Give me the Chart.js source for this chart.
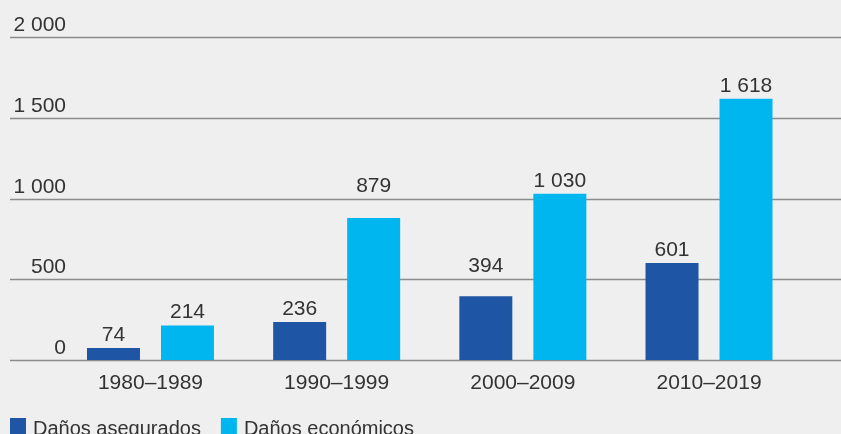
<!DOCTYPE html>
<html>
<head>
<meta charset="utf-8">
<script src="https://cdn.jsdelivr.net/npm/chart.js@4/dist/chart.umd.min.js"></script>
<style>
  html, body { margin: 0; padding: 0; background: #efefef; }
  #wrap { width: 841px; height: 434px; }
</style>
</head>
<body>
<div id="wrap"><canvas id="chart" width="841" height="434"></canvas></div>
<script>
const decades = ['1980–1989', '1990–1999', '2000–2009', '2010–2019'];
const insuredLosses = [74, 236, 394, 601];
const economicLosses = [214, 879, 1030, 1618];
const yTicks = [0, 500, 1000, 1500, 2000];

const FONT = '"Liberation Sans", Arial, sans-serif';
const TEXT = '#333333';

// 1 618 style: space as thousands separator
const fmt = v => String(v).replace(/\B(?=(\d{3})+(?!\d))/g, ' ');

const decor = {
  id: 'decor',
  beforeDatasetsDraw(chart) {
    const ctx = chart.ctx;
    const y = chart.scales.y;
    ctx.save();
    ctx.font = '21px ' + FONT;
    ctx.fillStyle = TEXT;
    ctx.textAlign = 'right';
    ctx.textBaseline = 'alphabetic';
    yTicks.forEach(t => {
      const py = Math.round(y.getPixelForValue(t)) + 0.5;
      ctx.strokeStyle = '#8c8c8c';
      ctx.lineWidth = 1.5;
      ctx.beginPath();
      ctx.moveTo(10, py);
      ctx.lineTo(chart.width, py);
      ctx.stroke();
      ctx.fillText(fmt(t), 66, py - 7);
    });
    ctx.restore();
  },
  afterDatasetsDraw(chart) {
    const ctx = chart.ctx;
    const y = chart.scales.y;
    const lines = yTicks.map(t => y.getPixelForValue(t));
    ctx.save();
    ctx.font = '21px ' + FONT;
    ctx.fillStyle = TEXT;
    ctx.textAlign = 'center';
    ctx.textBaseline = 'alphabetic';
    chart.data.datasets.forEach((ds, i) => {
      chart.getDatasetMeta(i).data.forEach((bar, j) => {
        let base = bar.y - 7;
        // keep the label clear of a grid line: lift it above the line
        const hit = lines.find(l => l < base + 2 && l > base - 17);
        if (hit !== undefined) base = hit - 7;
        ctx.fillText(fmt(ds.data[j]), bar.x, base);
      });
    });

    // legend, bottom left
    ctx.font = '20px ' + FONT;
    let x = 10;
    chart.data.datasets.forEach(ds => {
      ctx.fillStyle = ds.backgroundColor;
      ctx.fillRect(x, 418, 16, 16);
      ctx.fillStyle = TEXT;
      ctx.textAlign = 'left';
      ctx.fillText(ds.label, x + 23, 435);
      x += 23 + ctx.measureText(ds.label).width + 20;
    });
    ctx.restore();
  }
};

new Chart(document.getElementById('chart'), {
  type: 'bar',
  data: {
    labels: decades,
    datasets: [
      { label: 'Daños asegurados', data: insuredLosses, backgroundColor: '#1f55a5' },
      { label: 'Daños económicos', data: economicLosses, backgroundColor: '#00b6ef' }
    ]
  },
  options: {
    responsive: false,
    animation: false,
    layout: { padding: { left: 57.4, right: 38.9, top: 37, bottom: 0 } },
    categoryPercentage: 0.795,
    barPercentage: 0.716,
    plugins: {
      legend: { display: false },
      tooltip: { enabled: false }
    },
    scales: {
      x: {
        grid: { display: false, drawTicks: false },
        border: { display: false },
        ticks: { color: TEXT, font: { family: FONT, size: 21 }, padding: 11 },
        afterFit(scale) { scale.height = 74; }
      },
      y: {
        display: false,
        min: 0,
        max: 2000
      }
    }
  },
  plugins: [decor]
});
</script>
</body>
</html>
